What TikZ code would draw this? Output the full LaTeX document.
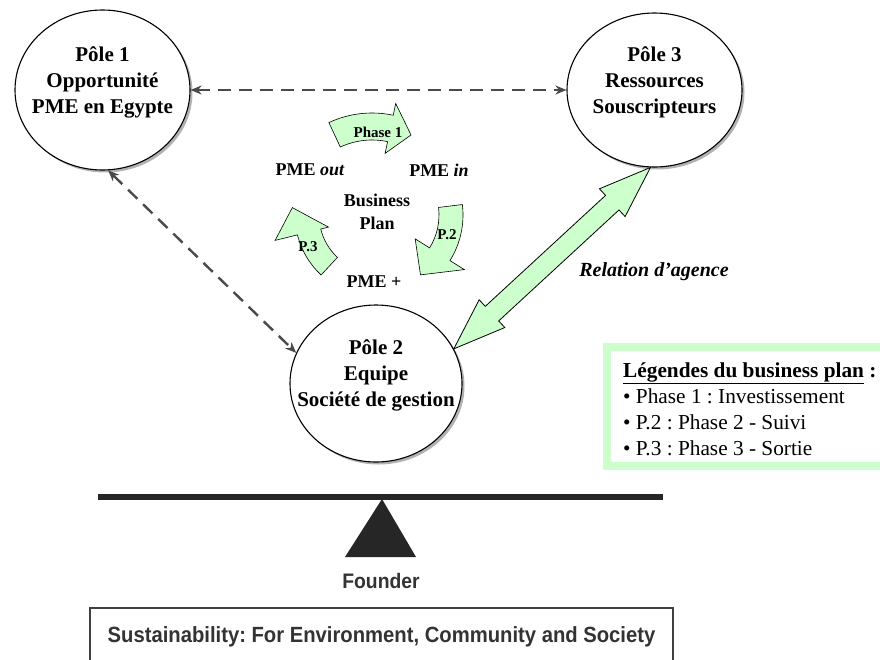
\documentclass[tikz,border=0pt]{standalone}
\usepackage{fontspec}
\setmainfont{Liberation Serif}
\newfontfamily\narrowsans[FakeStretch=0.92]{Liberation Sans}
\usetikzlibrary{arrows.meta,calc,shapes.geometric,shapes.arrows,shadows}
\definecolor{vertpale}{HTML}{CCFFCC}
\definecolor{grisfleche}{HTML}{4A4A4A}

\begin{document}
\begin{tikzpicture}[x=1pt,y=1pt,
	pole/.style={ellipse,draw,line width=1.1pt,fill=white,inner xsep=-20pt,inner ysep=0pt,
		align=center,font=\fontsize{21}{26}\selectfont\bfseries,
		drop shadow={shadow xshift=2.5pt,shadow yshift=-2.5pt,fill=black!60}},
	liaison/.style={draw=grisfleche,line width=2.4pt,dash pattern=on 13pt off 8pt,
		{Stealth[length=11pt,width=9pt,inset=3.5pt]}-{Stealth[length=11pt,width=9pt,inset=3.5pt]}},
	agence/.style={double arrow,draw,fill=vertpale,line width=0.8pt,inner sep=9.5pt,
		double arrow head extend=9pt,double arrow tip angle=40},
	cycle/.style={draw,fill=vertpale,line width=0.6pt},
	petit/.style={align=center,inner sep=0pt,font=\fontsize{18}{23}\selectfont\bfseries},
	etiq/.style={inner sep=0pt,font=\fontsize{15}{18}\selectfont\bfseries},
	legende/.style={align=left,inner sep=0pt,font=\fontsize{21.3}{26}\selectfont\frenchspacing},
	socle/.style={draw=black!75,line width=1.5pt,minimum width=583pt,minimum height=58pt,
		font=\narrowsans\bfseries\fontsize{22}{26}\selectfont\frenchspacing,text=black!80}]

\useasboundingbox (0,0) rectangle (880,-659);

% Les trois poles
	\node[pole,minimum width=175pt,minimum height=160pt] (p1) at (102.5,-90)
		{P\^ole 1\\Opportunit\'e\\PME en Egypte\\[-6pt]\mbox{}};
	\node[pole,minimum width=175pt,minimum height=154pt] (p3) at (654.5,-90)
		{P\^ole 3\\Ressources\\Souscripteurs\\[-6pt]\mbox{}};
	\node[pole,minimum width=172pt,minimum height=157pt] (p2) at (376,-383.5)
		{P\^ole 2\\Equipe\\Soci\'et\'e de gestion\\[-6pt]\mbox{}};

% Liaisons
	\draw[liaison] (p1) -- (p3);
	\draw[liaison] (p1.-86) -- (p2.159);

	\path let \p1=(p2.24), \p2=(p3.-93),
		\n1={atan2(\y2-\y1,\x2-\x1)}, \n2={veclen(\x2-\x1,\y2-\y1)} in
		node[agence,rotate=\n1,minimum height=\n2] (rel) at ($(\p1)!0.5!(\p2)$) {};
	\node[font=\fontsize{20}{24}\selectfont\bfseries\itshape] (relt) at (654,-272) {Relation d’agence};

% Cycle du business plan
\begin{scope}[shift={(372,-215)}]
	\draw[cycle] (115:102) arc[start angle=115,end angle=78,radius=102pt]
		-- (78:114) -- (64:89) -- (78:63) -- (78:75)
		arc[start angle=78,end angle=115,radius=75pt] -- cycle;
\end{scope}
\begin{scope}[shift={(377,-215)}]
	\draw[cycle] (7:86) arc[start angle=7,end angle=-32,radius=86pt]
		-- (-32:103) -- (-54:74) -- (-32:45) -- (-32:62)
		arc[start angle=-32,end angle=7,radius=62pt] -- cycle;
	\draw[cycle] (227:82) arc[start angle=227,end angle=194,radius=82pt]
		-- (194:105) -- (175:85) -- (194:50) -- (194:58)
		arc[start angle=194,end angle=227,radius=58pt] -- cycle;
\end{scope}

	\node[etiq] (ph1) at (378,-132) {Phase 1};
	\node[etiq] (ph2) at (447,-235) {P.2};
	\node[etiq] (ph3) at (308,-247) {P.3};

	\node[petit] (out) at (310,-170) {PME \textit{out}};
	\node[petit] (in) at (439,-170) {PME \textit{in}};
	\node[petit] (bp) at (377,-211.5) {Business\\Plan};
	\node[petit] (plus) at (374,-282) {PME +};

% Legende
	\draw[draw=vertpale,line width=8pt] (607,-347) rectangle (900,-466);
	\node[legende,anchor=north west] (leg) at (623,-362)
		{\textbf{\underline{L\'egendes du business plan} :}\\
		\textbullet{} Phase 1 : Investissement\\
		\textbullet{} P.2 : Phase 2 - Suivi\\
		\textbullet{} P.3 : Phase 3 - Sortie};

% Balance
	\draw[line width=6pt,black!85] (98,-497) -- (663,-497);
	\fill[black!85] (382,-499) -- (345,-557) -- (416,-557) -- cycle;
	\node[font=\narrowsans\bfseries\fontsize{21}{24}\selectfont,text=black!80] (founder) at (381,-581) {Founder};
	\node[socle,anchor=north] (durable) at (381.5,-607)
		{Sustainability: For Environment, Community and Society};
\end{tikzpicture}
\end{document}
